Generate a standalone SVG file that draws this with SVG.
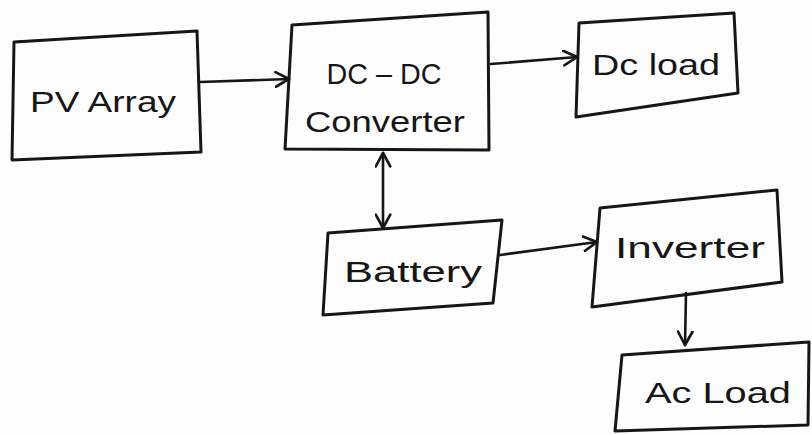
<svg xmlns="http://www.w3.org/2000/svg" width="812" height="435" viewBox="0 0 812 435">
<style>
.box{fill:none;stroke:#161616;stroke-width:3;stroke-linejoin:round;stroke-linecap:round}
.con{fill:none;stroke:#161616;stroke-width:2.6;stroke-linecap:round}
.lbl{font-family:"Liberation Sans",Arial,sans-serif;font-size:30px;fill:#161616;text-anchor:middle}
</style>
<defs>
<marker id="ah" viewBox="0 0 14 14" refX="12" refY="7" markerWidth="17" markerHeight="17" markerUnits="userSpaceOnUse" orient="auto-start-reverse">
<path d="M1 1 L12 7 L1 13" fill="none" stroke="#161616" stroke-width="2.2" stroke-linecap="round" stroke-linejoin="round"/>
</marker>
</defs>
<rect width="812" height="435" fill="#fdfdfd"/>
<g id="connectors">
<path class="con" d="M200 82 L289 79" marker-end="url(#ah)"/>
<path class="con" d="M491 64 L577 57" marker-end="url(#ah)"/>
<path class="con" d="M383 153 L383 228" marker-start="url(#ah)" marker-end="url(#ah)"/>
<path class="con" d="M500 255 L597 242" marker-end="url(#ah)"/>
<path class="con" d="M686 293 L685 345" marker-end="url(#ah)"/>
</g>
<g id="pv-array">
<polygon class="box" points="14,42 197,31 201,152 12,160"/>
<text class="lbl" x="103" y="112" textLength="146" lengthAdjust="spacingAndGlyphs">PV Array</text>
</g>
<g id="dc-dc-converter">
<polygon class="box" points="292,25 488,12 489,150 285,149"/>
<text class="lbl" x="384" y="84" textLength="115" lengthAdjust="spacingAndGlyphs">DC – DC</text>
<text class="lbl" x="385" y="132" textLength="160" lengthAdjust="spacingAndGlyphs">Converter</text>
</g>
<g id="dc-load">
<polygon class="box" points="579,23 734,13 738,93 576,117"/>
<text class="lbl" x="656" y="75" textLength="128" lengthAdjust="spacingAndGlyphs">Dc load</text>
</g>
<g id="battery">
<polygon class="box" points="328,233 502,220 493,303 323,315"/>
<text class="lbl" x="413" y="282" textLength="138" lengthAdjust="spacingAndGlyphs">Battery</text>
</g>
<g id="inverter">
<polygon class="box" points="600,208 777,190 782,282 592,307"/>
<text class="lbl" x="690" y="258" textLength="150" lengthAdjust="spacingAndGlyphs">Inverter</text>
</g>
<g id="ac-load">
<polygon class="box" points="622,355 809,342 808,425 615,431"/>
<text class="lbl" x="718" y="403" textLength="146" lengthAdjust="spacingAndGlyphs">Ac Load</text>
</g>
</svg>
